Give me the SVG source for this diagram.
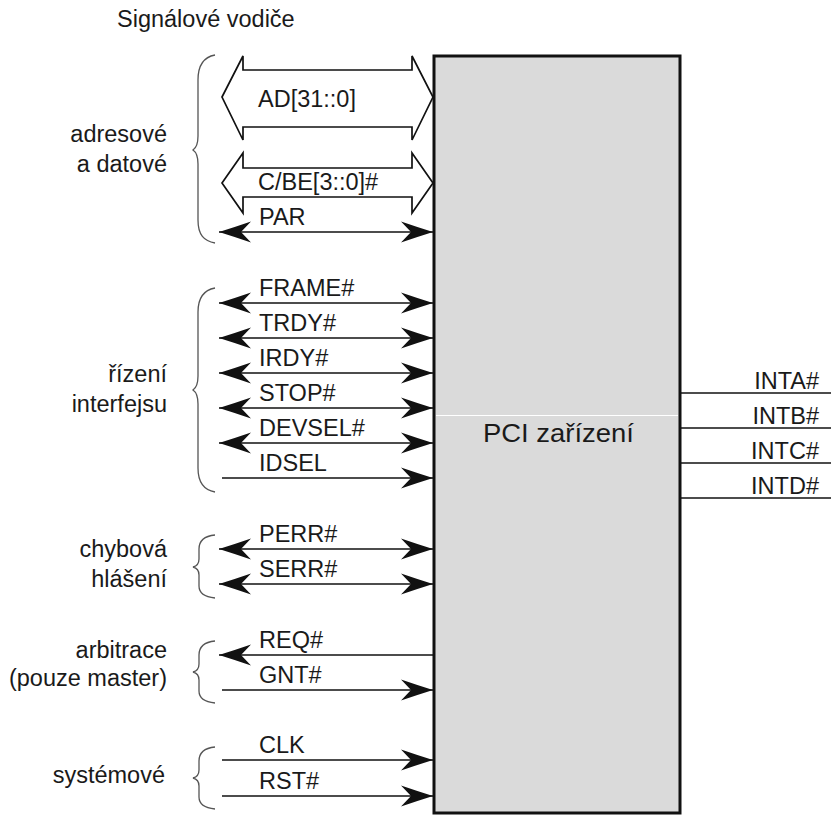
<svg xmlns="http://www.w3.org/2000/svg" width="831" height="816" viewBox="0 0 831 816">
<style>
text{font-family:"Liberation Sans",Arial,sans-serif;font-size:23.5px;fill:#1a1a1a}
.lbl{text-anchor:end}
.sig{stroke:#111;stroke-width:1.7;fill:none}
.bus{stroke:#111;stroke-width:1.7;fill:#fff;stroke-linejoin:miter}
.brace{stroke:#555;stroke-width:1.3;fill:none}
.box{fill:#dadada;stroke:#111;stroke-width:3}
</style>
<defs>
<marker id="ah" markerUnits="userSpaceOnUse" viewBox="-34 -12 36 24" refX="0" refY="0" markerWidth="36" markerHeight="24" orient="auto-start-reverse">
<path d="M0,0 Q-16,-5 -32,-10.5 L-22,0 L-32,10.5 Q-16,5 0,0Z" fill="#111"/>
</marker>
</defs>
<rect width="831" height="816" fill="#fff"/>
<text x="117" y="27">Signálové vodiče</text>
<g id="pci">
<rect class="box" x="434" y="56" width="246" height="757"/>
<line x1="436" y1="415.5" x2="678" y2="415.5" stroke="#fff" stroke-width="1"/>
<text x="483" y="442" style="font-size:26px" textLength="151" lengthAdjust="spacingAndGlyphs">PCI zařízení</text>
</g>
<g id="groups">
<g id="g-adr">
<path class="brace" d="M215,55 C204,57 198,64 198,80 L198,136 C198,145 196,148 193,150 C196,152 198,155 198,164 L198,220 C198,235 204,241 215,243"/>
<text class="lbl" x="167" y="142">adresové</text>
<text class="lbl" x="167" y="172">a datové</text>
</g>
<g id="g-ctl">
<path class="brace" d="M215,288 C204,290 198,297 198,312 L198,376 C198,385 196,388 193,390 C196,392 198,395 198,404 L198,468 C198,483 204,490 215,492"/>
<text class="lbl" x="167" y="382">řízení</text>
<text class="lbl" x="167" y="412">interfejsu</text>
</g>
<g id="g-err">
<path class="brace" d="M215,535 C205,536 199,541 199,549 L199,559 C199,563 197,566 193,567 C197,568 199,571 199,575 L199,586 C199,593 205,597 215,598"/>
<text class="lbl" x="167" y="557">chybová</text>
<text class="lbl" x="167" y="587">hlášení</text>
</g>
<g id="g-arb">
<path class="brace" d="M215,641 C205,642 199,647 199,655 L199,664 C199,668 197,671 193,672 C197,673 199,676 199,680 L199,691 C199,698 205,702 215,703"/>
<text class="lbl" x="167" y="658">arbitrace</text>
<text class="lbl" x="167" y="686">(pouze master)</text>
</g>
<g id="g-sys">
<path class="brace" d="M215,747 C205,748 199,753 199,761 L199,770 C199,774 197,777 193,778 C197,779 199,782 199,786 L199,797 C199,804 205,808 215,809"/>
<text class="lbl" x="165" y="783">systémové</text>
</g>
</g>
<g id="connectors">
<polygon class="bus" points="222,97 243,56 243,70 412,70 412,56 433,97 412,140 412,127 243,127 243,140"/>
<polygon class="bus" points="222,183 243,153 243,168 412,168 412,153 433,183 412,213 412,197 243,197 243,213"/>
<line class="sig" x1="219" y1="232" x2="433" y2="232" marker-start="url(#ah)" marker-end="url(#ah)"/>
<line class="sig" x1="219" y1="303" x2="433" y2="303" marker-start="url(#ah)" marker-end="url(#ah)"/>
<line class="sig" x1="219" y1="338" x2="433" y2="338" marker-start="url(#ah)" marker-end="url(#ah)"/>
<line class="sig" x1="219" y1="373" x2="433" y2="373" marker-start="url(#ah)" marker-end="url(#ah)"/>
<line class="sig" x1="219" y1="408" x2="433" y2="408" marker-start="url(#ah)" marker-end="url(#ah)"/>
<line class="sig" x1="219" y1="443" x2="433" y2="443" marker-start="url(#ah)" marker-end="url(#ah)"/>
<line class="sig" x1="222" y1="478" x2="433" y2="478" marker-end="url(#ah)"/>
<line class="sig" x1="219" y1="549" x2="433" y2="549" marker-start="url(#ah)" marker-end="url(#ah)"/>
<line class="sig" x1="219" y1="584" x2="433" y2="584" marker-start="url(#ah)" marker-end="url(#ah)"/>
<line class="sig" x1="219" y1="655" x2="433" y2="655" marker-start="url(#ah)"/>
<line class="sig" x1="222" y1="690" x2="433" y2="690" marker-end="url(#ah)"/>
<line class="sig" x1="222" y1="760" x2="433" y2="760" marker-end="url(#ah)"/>
<line class="sig" x1="222" y1="796" x2="433" y2="796" marker-end="url(#ah)"/>
<line class="sig" x1="681" y1="393" x2="831" y2="393"/>
<line class="sig" x1="681" y1="428" x2="831" y2="428"/>
<line class="sig" x1="681" y1="463" x2="831" y2="463"/>
<line class="sig" x1="681" y1="498" x2="831" y2="498"/>
</g>
<g id="labels">
<text x="258" y="107">AD[31::0]</text>
<text x="258" y="190">C/BE[3::0]#</text>
<text x="259" y="225">PAR</text>
<text x="259" y="296">FRAME#</text>
<text x="259" y="331">TRDY#</text>
<text x="259" y="366">IRDY#</text>
<text x="259" y="401">STOP#</text>
<text x="259" y="436">DEVSEL#</text>
<text x="259" y="471">IDSEL</text>
<text x="259" y="542">PERR#</text>
<text x="259" y="577">SERR#</text>
<text x="259" y="648">REQ#</text>
<text x="259" y="683">GNT#</text>
<text x="259" y="753">CLK</text>
<text x="259" y="789">RST#</text>
<text class="lbl" x="819" y="389">INTA#</text>
<text class="lbl" x="819" y="424">INTB#</text>
<text class="lbl" x="819" y="459">INTC#</text>
<text class="lbl" x="819" y="494">INTD#</text>
</g>
</svg>
